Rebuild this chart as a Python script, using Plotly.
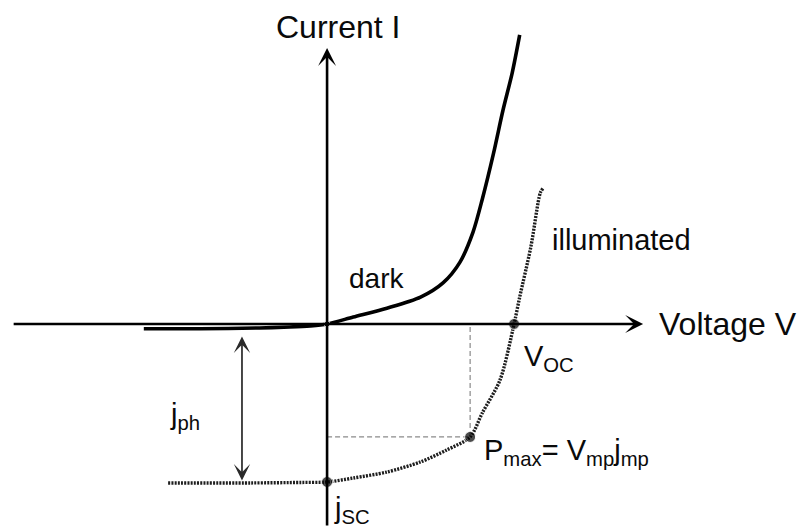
import plotly.graph_objects as go

# I-V characteristics of a solar cell (normalised units: Voc = 1, |jsc| = 1)
dark_v = [-0.98, -0.68, -0.36, -0.20, -0.09, 0.0, 0.14, 0.32, 0.50, 0.62, 0.71, 0.78, 0.83, 0.89, 0.94, 0.99, 1.03]
dark_i = [-0.03, -0.03, -0.025, -0.019, -0.012, 0.0, 0.044, 0.10, 0.17, 0.26, 0.39, 0.58, 0.79, 1.08, 1.35, 1.59, 1.83]

illum_v = [-0.85, -0.41, -0.14, 0.0, 0.14, 0.32, 0.50, 0.64, 0.765, 0.83, 0.925, 1.0, 1.03, 1.09, 1.14, 1.155]
illum_i = [-1.006, -1.006, -1.003, -1.0, -0.975, -0.937, -0.873, -0.797, -0.715, -0.563, -0.354, 0.0, 0.17, 0.49, 0.83, 0.86]

v_oc = 1.0
j_sc = -1.0
v_mp = 0.765
j_mp = -0.715

FONT = "Liberation Sans, Arial, sans-serif"

fig = go.Figure()

# dark curve
fig.add_trace(go.Scatter(
    x=dark_v, y=dark_i, mode="lines",
    line=dict(color="black", width=3.6, shape="spline", smoothing=0.8),
    hoverinfo="skip"))

# illuminated curve
fig.add_trace(go.Scatter(
    x=illum_v, y=illum_i, mode="lines",
    line=dict(color="#1e1e1e", width=3.4, dash="2px,1.2px", shape="spline", smoothing=0.8),
    hoverinfo="skip"))

# maximum power point construction lines
fig.add_trace(go.Scatter(
    x=[0, v_mp, v_mp], y=[j_mp, j_mp, 0], mode="lines",
    line=dict(color="#8a8a8a", width=1.2, dash="5px,3px"),
    hoverinfo="skip"))

# characteristic points
fig.add_trace(go.Scatter(
    x=[0, 0, v_mp, v_oc], y=[0, j_sc, j_mp, 0], mode="markers",
    marker=dict(color="black", size=[6, 11, 11, 11]),
    hoverinfo="skip"))

x_min, x_max = -1.749, 2.545
y_min, y_max = -1.285, 2.051

# coordinate axes with arrowheads
fig.add_annotation(x=1.69, y=0, ax=-1.684, ay=0, xref="x", yref="y", axref="x", ayref="y",
                   text="", showarrow=True, arrowhead=3, arrowsize=1.15, arrowwidth=2.6,
                   arrowcolor="black")
fig.add_annotation(x=0, y=1.747, ax=0, ay=y_min, xref="x", yref="y", axref="x", ayref="y",
                   text="", showarrow=True, arrowhead=3, arrowsize=1.15, arrowwidth=2.6,
                   arrowcolor="black")

# photocurrent double arrow
fig.add_annotation(x=-0.455, y=-0.99, ax=-0.455, ay=-0.07, xref="x", yref="y", axref="x", ayref="y",
                   text="", showarrow=True, arrowhead=3, arrowsize=1.6, arrowwidth=1.7,
                   arrowside="end+start", arrowcolor="#2a2a2a")

labels = [
    (0.06, 1.88, "Current I", 32, "center"),
    (1.762, 0.0, "Voltage V", 32, "left"),
    (0.107, 0.285, "dark", 28, "left"),
    (1.19, 0.53, "illuminated", 29, "left"),
    (1.045, -0.215, "V<sub>OC</sub>", 29, "left"),
    (-0.853, -0.58, "j<sub>ph</sub>", 29, "left"),
    (0.83, -0.81, "P<sub>max</sub>= V<sub>mp</sub>j<sub>mp</sub>", 29, "left"),
    (0.024, -1.18, "j<sub>SC</sub>", 29, "left"),
]
for x, y, t, s, anchor in labels:
    fig.add_annotation(x=x, y=y, xref="x", yref="y", text=t, showarrow=False,
                       xanchor=anchor, yanchor="middle",
                       font=dict(family=FONT, size=s, color="#0a0a0a"))

fig.update_layout(
    width=803, height=527,
    margin=dict(l=0, r=0, t=0, b=0),
    paper_bgcolor="white", plot_bgcolor="white",
    showlegend=False,
    xaxis=dict(range=[x_min, x_max], visible=False, fixedrange=True),
    yaxis=dict(range=[y_min, y_max], visible=False, fixedrange=True),
)

fig.write_html("out.html")
